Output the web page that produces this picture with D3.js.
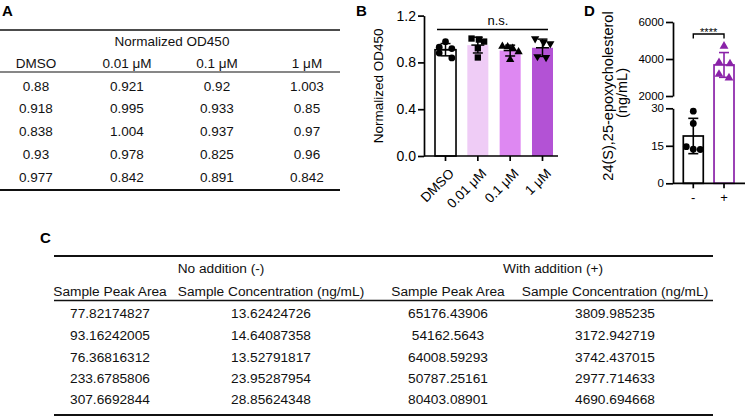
<!DOCTYPE html>
<html>
<head>
<meta charset="utf-8">
<script src="https://cdn.jsdelivr.net/npm/d3@7"></script>
<style>
  html, body { margin: 0; padding: 0; background: #fff; }
  svg { display: block; font-family: "Liberation Sans", Arial, Helvetica, sans-serif; }
</style>
</head>
<body>
<svg id="fig" width="748" height="418"></svg>
<script>
// ---------------- DATA ----------------
const groupsB = ["DMSO", "0.01 μM", "0.1 μM", "1 μM"];
const odDMSO = [0.88, 0.918, 0.838, 0.93, 0.977];
const od001 = [0.921, 0.995, 1.004, 0.978, 0.842];
const od01 = [0.92, 0.933, 0.937, 0.825, 0.891];
const od1 = [1.003, 0.85, 0.97, 0.96, 0.842];
const yTicksB = [0, 0.4, 0.8, 1.2];

const tableATitle = "Normalized OD450";

const groupsC = ["No addition (-)", "With addition (+)"];
const colsC = ["Sample Peak Area", "Sample Concentration (ng/mL)", "Sample Peak Area", "Sample Concentration (ng/mL)"];
const peakNo = ["77.82174827", "93.16242005", "76.36816312", "233.6785806", "307.6692844"];
const concNo = [13.62424726, 14.64087358, 13.52791817, 23.95287954, 28.85624348];
const peakWith = ["65176.43906", "54162.5643", "64008.59293", "50787.25161", "80403.08901"];
const concWith = [3809.985235, 3172.942719, 3742.437015, 2977.714633, 4690.694668];

const groupsD = ["-", "+"];
const yTicksDLow = [0, 15, 30];
const yTicksDHigh = [2000, 4000, 6000];

// horizontal scatter of replicate dots (fraction of bar width)
const jitterB = [
  [-0.3, 0.3, 0.3, -0.3, 0],
  [0, 0.05, -0.3, 0.3, 0],
  [0.12, -0.12, -0.37, 0, 0.4],
  [-0.35, -0.24, 0.05, 0.37, 0.17]
];
const jitterD = [
  [0, -0.35, 0.35, 0, 0],
  [-0.25, -0.25, 0.3, 0.25, 0]
];

// ---------------- HELPERS ----------------
const svg = d3.select("#fig");
const mean = a => d3.mean(a);
const sd = a => d3.deviation(a);
const valuesB = [odDMSO, od001, od01, od1];

function label(x, y, t) {
  svg.append("text").attr("x", x).attr("y", y).text(t)
    .attr("font-weight", "bold").attr("font-size", 15).attr("fill", "#000");
}

// ---------------- PANEL A (table) ----------------
label(2, 16, "A");
{
  const g = svg.append("g").attr("font-size", 13.5).attr("fill", "#111");
  const colX = [36, 127, 217, 307];
  const rowY = [86, 108.5, 131, 154, 177];
  g.append("line").attr("x1", 0).attr("x2", 340).attr("y1", 30).attr("y2", 30).attr("stroke", "#111").attr("stroke-width", 1.6);
  g.append("line").attr("x1", 0).attr("x2", 340).attr("y1", 72).attr("y2", 72).attr("stroke", "#111").attr("stroke-width", 1.2);
  g.append("line").attr("x1", 0).attr("x2", 340).attr("y1", 190).attr("y2", 190).attr("stroke", "#111").attr("stroke-width", 2.2);
  g.append("text").attr("x", 172).attr("y", 41).attr("dy", "0.35em").attr("text-anchor", "middle").text(tableATitle);
  g.selectAll("text.hd").data(groupsB).join("text").attr("class", "hd")
    .attr("x", (d, i) => colX[i]).attr("y", 63).attr("dy", "0.35em").attr("text-anchor", "middle").text(d => d);
  valuesB.forEach((col, ci) => {
    g.selectAll("text.c" + ci).data(col).join("text").attr("class", "c" + ci)
      .attr("x", colX[ci]).attr("y", (d, i) => rowY[i]).attr("dy", "0.35em")
      .attr("text-anchor", "middle").text(d => String(d));
  });
}

// ---------------- PANEL B (bar chart) ----------------
label(356, 16, "B");
{
  const x = d3.scaleBand().domain(groupsB).range([435, 553]).paddingInner(0.35).paddingOuter(0);
  const y = d3.scaleLinear().domain([0, 1.2]).range([156, 15.6]);
  const fills = ["#ffffff", "#efccf6", "#de88f2", "#b352d5"];
  const g = svg.append("g");

  g.selectAll("rect.bar").data(groupsB).join("rect").attr("class", "bar")
    .attr("x", d => x(d)).attr("width", x.bandwidth())
    .attr("y", (d, i) => y(mean(valuesB[i]))).attr("height", (d, i) => y(0) - y(mean(valuesB[i])))
    .attr("fill", (d, i) => fills[i])
    .attr("stroke", (d, i) => i === 0 ? "#000" : "none").attr("stroke-width", 1.6);

  const symbols = [d3.symbol().type(d3.symbolCircle).size(36)(),
                   d3.symbol().type(d3.symbolSquare).size(40)(),
                   d3.symbol().type(d3.symbolTriangle).size(30)(),
                   d3.symbol().type(d3.symbolTriangle).size(30)()];
  groupsB.forEach((gname, gi) => {
    const cx = x(gname) + x.bandwidth() / 2;
    g.selectAll("path.p" + gi).data(valuesB[gi]).join("path").attr("class", "p" + gi)
      .attr("d", symbols[gi])
      .attr("transform", (d, i) => `translate(${cx + jitterB[gi][i] * x.bandwidth()},${y(d)})` + (gi === 3 ? " rotate(180)" : ""))
      .attr("fill", "#000");
    const m = mean(valuesB[gi]), s = sd(valuesB[gi]);
    const eb = g.append("g").attr("stroke", "#000").attr("stroke-width", 1.5);
    eb.append("line").attr("x1", cx).attr("x2", cx).attr("y1", y(m - s)).attr("y2", y(m + s));
    eb.append("line").attr("x1", cx - 5).attr("x2", cx + 5).attr("y1", y(m + s)).attr("y2", y(m + s));
    eb.append("line").attr("x1", cx - 5).attr("x2", cx + 5).attr("y1", y(m - s)).attr("y2", y(m - s));
    eb.append("line").attr("x1", cx - 6.5).attr("x2", cx + 6.5).attr("y1", y(m)).attr("y2", y(m));
  });

  const ay = g.append("g").attr("transform", "translate(424,0)")
    .call(d3.axisLeft(y).tickValues(yTicksB).tickFormat(d3.format(".1f")).tickSize(6).tickSizeOuter(0).tickPadding(2));
  ay.selectAll("path,line").attr("stroke", "#000").attr("stroke-width", 1.7);
  ay.selectAll("text").attr("font-size", 14).attr("fill", "#000").attr("font-family", "Liberation Sans, Arial, sans-serif");

  const ax = g.append("g").attr("transform", `translate(0,${y(0)})`)
    .call(d3.axisBottom(x).tickSize(5).tickSizeOuter(0));
  ax.select(".domain").attr("d", "M424,0H558");
  ax.selectAll("path,line").attr("stroke", "#000").attr("stroke-width", 1.7);
  ax.selectAll("text").attr("font-size", 13.5).attr("fill", "#000").attr("font-family", "Liberation Sans, Arial, sans-serif")
    .attr("text-anchor", "end").attr("dy", "0.35em").attr("y", 0)
    .attr("transform", "translate(6,15) rotate(-45)");

  svg.append("text").attr("transform", `translate(378,${(y(0) + y(1.2)) / 2}) rotate(-90)`)
    .attr("text-anchor", "middle").attr("dy", "0.35em").attr("font-size", 13.5).attr("fill", "#000").text("Normalized OD450");

  g.append("line").attr("x1", x(groupsB[0]) + 2).attr("x2", x(groupsB[3]) + x.bandwidth() - 5)
    .attr("y1", 29.5).attr("y2", 29.5).attr("stroke", "#000").attr("stroke-width", 1.5);
  g.append("text").attr("x", 498).attr("y", 25).attr("text-anchor", "middle").attr("font-size", 13).attr("fill", "#000").text("n.s.");
}

// ---------------- PANEL D (broken-axis bar chart) ----------------
label(584, 16, "D");
{
  const x = d3.scaleBand().domain(groupsD).range([683.3, 734]).paddingInner(0.35).paddingOuter(0);
  const yLow = d3.scaleLinear().domain([0, 30]).range([183.3, 108.3]);
  const yHigh = d3.scaleLinear().domain([2000, 6000]).range([96, 22]);
  const purple = "#8a22a8";
  const g = svg.append("g");
  const mNo = mean(concNo), sNo = sd(concNo);
  const mW = mean(concWith), sW = sd(concWith);

  g.append("rect").attr("x", x("-")).attr("width", x.bandwidth())
    .attr("y", yLow(mNo)).attr("height", yLow(0) - yLow(mNo))
    .attr("fill", "#fff").attr("stroke", "#000").attr("stroke-width", 1.7);
  g.append("rect").attr("x", x("+")).attr("width", x.bandwidth())
    .attr("y", yHigh(mW)).attr("height", yLow(0) - yHigh(mW))
    .attr("fill", "none").attr("stroke", purple).attr("stroke-width", 1.7);

  function ebar(cx, y0, y1, col) {
    const eb = g.append("g").attr("stroke", col).attr("stroke-width", 1.6);
    eb.append("line").attr("x1", cx).attr("x2", cx).attr("y1", y0).attr("y2", y1);
    eb.append("line").attr("x1", cx - 5).attr("x2", cx + 5).attr("y1", y0).attr("y2", y0);
    eb.append("line").attr("x1", cx - 5).attr("x2", cx + 5).attr("y1", y1).attr("y2", y1);
  }
  const cxNo = x("-") + x.bandwidth() / 2, cxW = x("+") + x.bandwidth() / 2;
  ebar(cxNo, yLow(mNo - sNo), yLow(mNo + sNo), "#000");
  ebar(cxW, yHigh(mW - sW), yHigh(mW + sW), purple);

  g.selectAll("circle.pn").data(concNo).join("circle").attr("class", "pn")
    .attr("cx", (d, i) => cxNo + jitterD[0][i] * x.bandwidth()).attr("cy", d => yLow(d)).attr("r", 3.4).attr("fill", "#000");
  const tri = d3.symbol().type(d3.symbolTriangle).size(34)();
  g.selectAll("path.pw").data(concWith).join("path").attr("class", "pw")
    .attr("d", tri).attr("transform", (d, i) => `translate(${cxW + jitterD[1][i] * x.bandwidth()},${yHigh(d)})`)
    .attr("fill", purple);

  const styleAx = (sel, fs) => {
    sel.selectAll("path,line").attr("stroke", "#000").attr("stroke-width", 1.7);
    sel.selectAll("text").attr("font-size", fs).attr("fill", "#000").attr("font-family", "Liberation Sans, Arial, sans-serif");
  };
  styleAx(g.append("g").attr("transform", "translate(673,0)")
    .call(d3.axisLeft(yLow).tickValues(yTicksDLow).tickFormat(d3.format("d")).tickSize(7).tickSizeOuter(0).tickPadding(2)), 11.5);
  styleAx(g.append("g").attr("transform", "translate(673,0)")
    .call(d3.axisLeft(yHigh).tickValues(yTicksDHigh).tickFormat(d3.format("d")).tickSize(7).tickSizeOuter(0).tickPadding(2)), 11.5);
  const ax = g.append("g").attr("transform", `translate(0,${yLow(0)})`)
    .call(d3.axisBottom(x).tickSize(5).tickSizeOuter(0).tickPadding(4));
  ax.select(".domain").attr("d", "M673,0H745");
  styleAx(ax, 13);

  const yc = 96;
  svg.append("text").attr("transform", `translate(608,${yc}) rotate(-90)`).attr("text-anchor", "middle").attr("dy", "0.35em")
    .attr("font-size", 14.5).attr("fill", "#000").text("24(S),25-epoxycholesterol");
  svg.append("text").attr("transform", `translate(622,${yc - 3}) rotate(-90)`).attr("text-anchor", "middle").attr("dy", "0.35em")
    .attr("font-size", 14.5).attr("fill", "#000").text("(ng/mL)");

  g.append("path").attr("d", `M${cxNo},38.5V34H${cxW}V38.5`).attr("fill", "none").attr("stroke", "#000").attr("stroke-width", 1.4);
  g.append("text").attr("x", (cxNo + cxW) / 2).attr("y", 36).attr("text-anchor", "middle").attr("font-size", 11).attr("fill", "#000").text("****");
}

// ---------------- PANEL C (table) ----------------
svg.append("text").attr("x", 40).attr("y", 243).text("C").attr("font-weight", "bold").attr("font-size", 15).attr("fill", "#000");
{
  const g = svg.append("g").attr("font-size", 13.7).attr("fill", "#111");
  const colX = [110, 271, 448, 615];
  const grpX = [221, 553];
  const rowY = [313, 335, 357, 378, 399.5];
  g.append("line").attr("x1", 54).attr("x2", 713).attr("y1", 256).attr("y2", 256).attr("stroke", "#111").attr("stroke-width", 1.8);
  g.append("line").attr("x1", 54).attr("x2", 713).attr("y1", 300.5).attr("y2", 300.5).attr("stroke", "#111").attr("stroke-width", 1.3);
  g.append("line").attr("x1", 54).attr("x2", 713).attr("y1", 415).attr("y2", 415).attr("stroke", "#111").attr("stroke-width", 2.2);
  g.selectAll("text.grp").data(groupsC).join("text").attr("class", "grp")
    .attr("x", (d, i) => grpX[i]).attr("y", 268).attr("dy", "0.35em").attr("text-anchor", "middle").text(d => d);
  g.selectAll("text.sub").data(colsC).join("text").attr("class", "sub")
    .attr("x", (d, i) => colX[i]).attr("y", 291.5).attr("dy", "0.35em").attr("text-anchor", "middle").text(d => d);
  [peakNo, concNo, peakWith, concWith].forEach((col, ci) => {
    g.selectAll("text.d" + ci).data(col).join("text").attr("class", "d" + ci)
      .attr("x", colX[ci]).attr("y", (d, i) => rowY[i]).attr("dy", "0.35em")
      .attr("text-anchor", "middle").text(d => String(d));
  });
}
</script>
</body>
</html>
